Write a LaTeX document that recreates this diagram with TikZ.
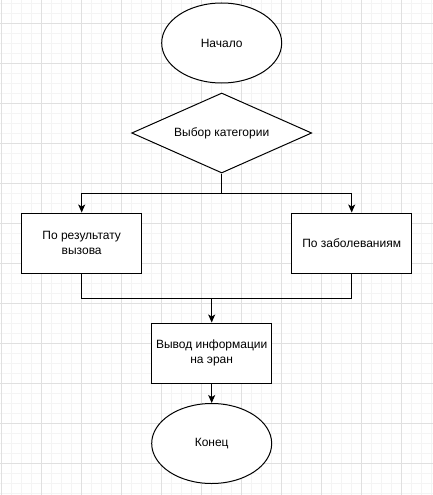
\documentclass[tikz,border=0pt]{standalone}
\usepackage{fontspec}
\setmainfont{Liberation Sans}
\usepackage{xcolor}
\usetikzlibrary{shapes.geometric,arrows.meta}

\definecolor{gridmajor}{RGB}{224,224,224}
\definecolor{gridminor}{RGB}{244,244,244}

\tikzset{
  block/.style={draw,line width=1pt,fill=white,minimum width=120pt,minimum height=60pt,
    inner sep=0pt,align=center,font=\fontsize{12}{15}\selectfont},
  terminal/.style={block,ellipse,minimum height=80pt},
  decision/.style={block,diamond,aspect=2.25,minimum width=180pt,minimum height=80pt},
  link/.style={line width=1pt}
}

\begin{document}
\begin{tikzpicture}[x=1pt,y=-1pt,>={Stealth[length=8pt,width=7pt,inset=2pt]}]
      \useasboundingbox[fill=white] (0,0) rectangle (433,495);
      % background grid
      \foreach \i in {0,...,43}{
        \pgfmathsetmacro\gx{1.3+10*\i}
        \draw[gridminor,line width=1pt] (\gx,0) -- (\gx,495);
      }
      \foreach \i in {0,...,49}{
        \pgfmathsetmacro\gy{3.3+10*\i}
        \draw[gridminor,line width=1pt] (0,\gy) -- (433,\gy);
      }
      \foreach \i in {0,...,10}{
        \pgfmathsetmacro\gx{1.3+40*\i}
        \draw[gridmajor,line width=1pt] (\gx,0) -- (\gx,495);
      }
      \foreach \i in {0,...,11}{
        \pgfmathsetmacro\gy{23.3+40*\i}
        \draw[gridmajor,line width=1pt] (0,\gy) -- (433,\gy);
      }
      % flowchart
      \node[terminal] (start)     at (221.7,43)  {Начало};
      \node[decision] (choice)    at (221.7,133) {Выбор категории};
      \node[block]    (byresult)  at (81.7,243)  {По результату\\вызова};
      \node[block]    (bydisease) at (351.7,243) {По заболеваниям};
      \node[block]    (output)    at (211.7,353) {Вывод информации\\на эран};
      \node[terminal] (finish)    at (211.7,443.5) {Конец};
      \coordinate (split) at (221.7,193);
      \coordinate (merge) at (211.7,298);
      \draw[link] (choice.south) -- (split);
      \draw[link,->] (split) -| (byresult.north);
      \draw[link,->] (split) -| (bydisease.north);
      \draw[link] (byresult.south) |- (merge);
      \draw[link] (bydisease.south) |- (merge);
      \draw[link,->] (merge) -- (output.north);
      \draw[link,->] (output.south) -- (finish.north);
    \end{tikzpicture}
\end{document}
